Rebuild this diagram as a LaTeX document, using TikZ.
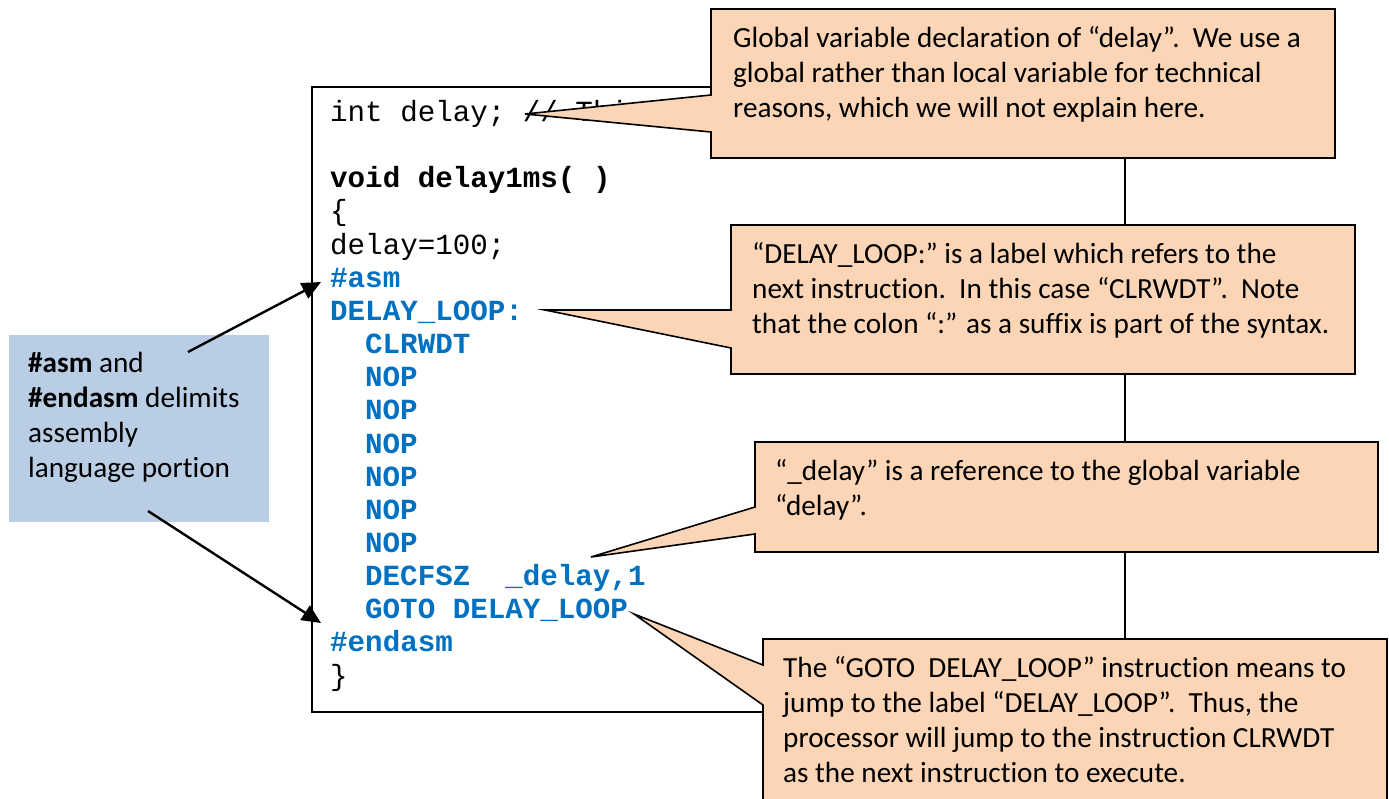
\documentclass[tikz,border=0pt]{standalone}
\usepackage{fontspec}
\setmainfont{Carlito}[Ligatures=NoCommon]
\newfontfamily\codefont{Liberation Mono}
\usetikzlibrary{arrows.meta}
\definecolor{peach}{HTML}{FBD5B5}
\definecolor{noteblue}{HTML}{B9CDE5}
\definecolor{asmblue}{HTML}{0070C0}
\begin{document}
\begin{tikzpicture}[x=1pt,y=-1pt,
  callout/.style={draw=black,line width=1.6pt,fill=peach,line join=miter},
  notetext/.style={anchor=base west,inner sep=0pt,align=left,
    font=\fontsize{29.2}{35}\selectfont},
  codetxt/.style={anchor=base west,inner sep=0pt,
    font=\codefont\fontsize{29.2}{33.15}\selectfont},
  asmtxt/.style={codetxt,text=asmblue,
    font=\codefont\bfseries\fontsize{29.2}{33.15}\selectfont},
  pointer/.style={line width=2.4pt,-{Triangle[length=19pt,width=17pt]}}]
\useasboundingbox (0,0) rectangle (1389,799);

% frame around the listing
\draw[line width=2pt] (312,87) rectangle (1125,712);

% listing, one line every 33.15pt
\node[codetxt] (l0) at (330,121.5) {int delay; // This};
\node[codetxt,font=\codefont\bfseries\fontsize{29.2}{33.15}\selectfont] (l2) at (330,187.8) {void delay1ms( )};
\node[codetxt] (l3) at (330,220.95) {\{};
\node[codetxt] (l4) at (330,254.1) {delay=100;};
\node[asmtxt] (l5) at (330,287.25) {\#asm};
\node[asmtxt] (l6) at (330,320.4) {DELAY\_LOOP:};
\node[asmtxt] (l7) at (365,353.55) {CLRWDT};
\foreach \k in {8,...,13}
  \node[asmtxt] (l\k) at (365,121.5+33.15*\k) {NOP};
\node[asmtxt] (l14) at (365,585.6) {DECFSZ\ \ \_delay,1};
\node[asmtxt] (l15) at (365,618.75) {GOTO DELAY\_LOOP};
\node[asmtxt] (l16) at (330,651.9) {\#endasm};
\node[codetxt] (l17) at (330,685.05) {\}};

% side note on the assembly delimiters (base anchor = last line)
\fill[noteblue] (9,335) rectangle (269,522);
\node[notetext] (side) at (28,477) {\textbf{\#asm} and\\\textbf{\#endasm} delimits\\assembly\\language portion};
\coordinate (asmTail) at (188,352);
\coordinate (asmHead) at (321,282);
\coordinate (endTail) at (148,511);
\coordinate (endHead) at (321,623);
\draw[pointer] (asmTail) -- (asmHead);
\draw[pointer] (endTail) -- (endHead);

% callouts (text nodes are anchored on their last baseline)
\draw[callout] (711,9) -- (1335,9) -- (1335,158) -- (711,158) -- (711,132)
  -- (525,114) -- (711,95) -- cycle;
\node[notetext] (n1) at (733,118) {Global variable declaration of “delay”.\ \ We use a\\global rather than local variable for technical\\reasons, which we will not explain here.};

\draw[callout] (731,225) -- (1355,225) -- (1355,374) -- (731,374) -- (731,348)
  -- (545,310) -- (731,310) -- cycle;
\node[notetext] (n2) at (752,334) {“DELAY\_LOOP:” is a label which refers to the\\next instruction.\ \ In this case “CLRWDT”.\ \ Note\\that the colon “:” as a suffix is part of the syntax.};

\draw[callout] (755,442) -- (1378,442) -- (1378,552) -- (755,552) -- (755,534)
  -- (591,557) -- (755,507) -- cycle;
\node[notetext] (n3) at (775,515) {“\_delay” is a reference to the global variable\\“delay”.};

\draw[callout] (763,639) -- (1387,639) -- (1387,805) -- (763,805) -- (763,705)
  -- (634,614) -- (763,665) -- cycle;
\node[notetext] (n4) at (783,782) {The “GOTO\ \ DELAY\_LOOP” instruction means to\\jump to the label “DELAY\_LOOP”.\ \ Thus, the\\processor will jump to the instruction CLRWDT\\as the next instruction to execute.};
\end{tikzpicture}
\end{document}
